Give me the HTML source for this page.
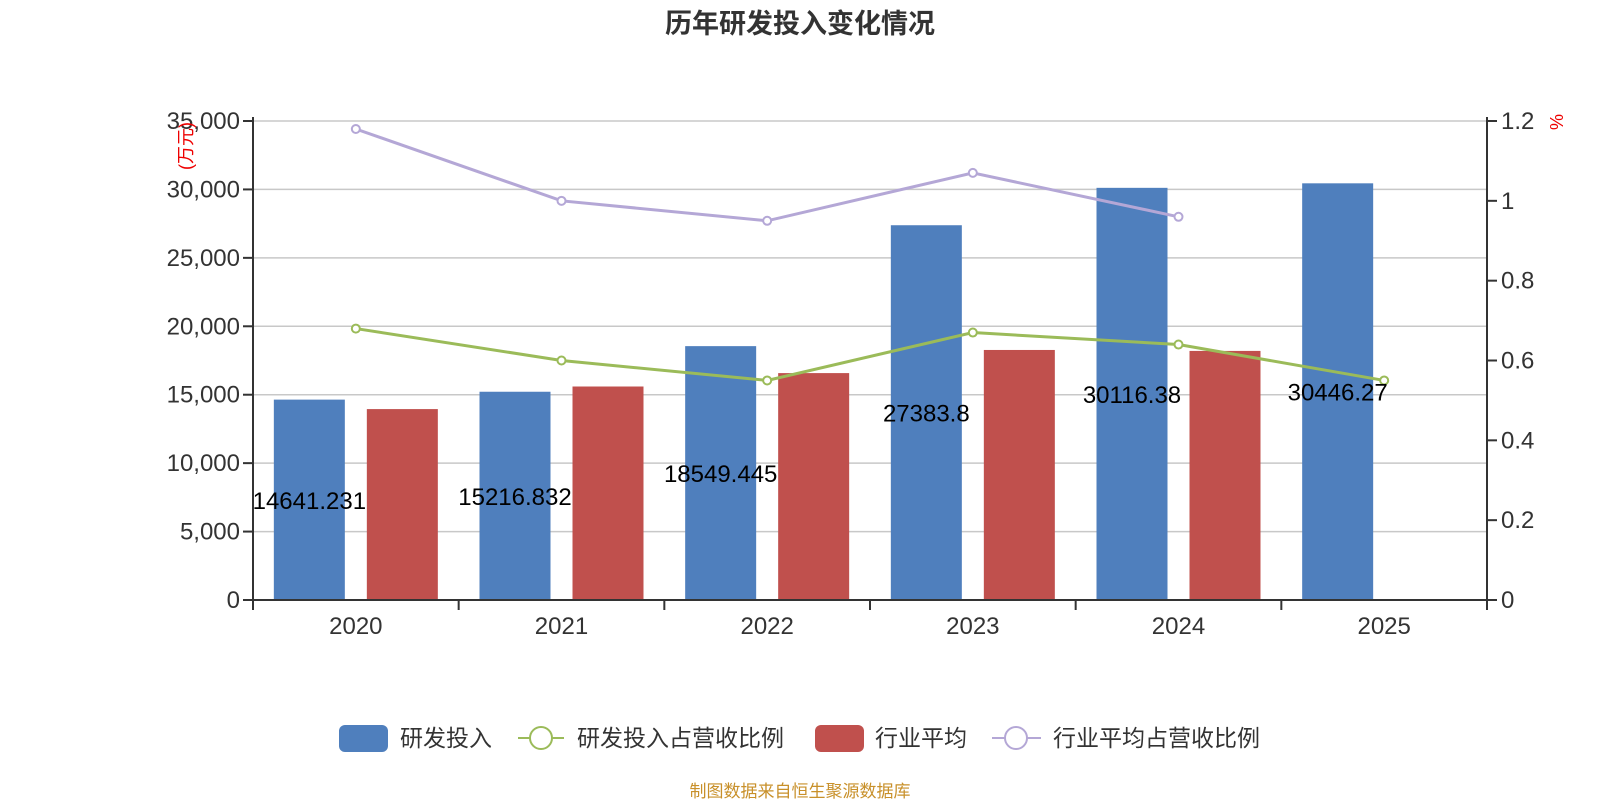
<!DOCTYPE html>
<html><head><meta charset="utf-8">
<style>
body{margin:0;background:#fff;}
svg{display:block;font-family:"Liberation Sans","Noto Sans CJK SC",sans-serif;}
</style></head>
<body>
<svg id="chart" width="1600" height="800" viewBox="0 0 1600 800">
<text x="800" y="33" text-anchor="middle" font-size="27" font-weight="bold" fill="#333">历年研发投入变化情况</text>
<g id="grid"></g>
<g id="bars"></g>
<g id="lines"></g>
<g id="axes"></g>
<text transform="translate(192,146) rotate(-90)" text-anchor="middle" font-size="18" fill="#e00">(万元)</text>
<text transform="translate(1563,122) rotate(-90)" text-anchor="middle" font-size="18" fill="#e00">%</text>
<g font-size="23" fill="#333">
 <g><rect x="339" y="725" width="49" height="27" rx="6" fill="#4f7fbd"/><text x="400" y="746">研发投入</text></g>
 <g><line x1="518" y1="738" x2="564" y2="738" stroke="#9bbb59" stroke-width="2"/><circle cx="541" cy="738" r="11" fill="#fff" stroke="#9bbb59" stroke-width="2"/><text x="577" y="746">研发投入占营收比例</text></g>
 <g><rect x="815" y="725" width="49" height="27" rx="6" fill="#c0504d"/><text x="875" y="746">行业平均</text></g>
 <g><line x1="992" y1="738" x2="1041" y2="738" stroke="#b4a7d6" stroke-width="2"/><circle cx="1016" cy="738" r="11" fill="#fff" stroke="#b4a7d6" stroke-width="2"/><text x="1053" y="746">行业平均占营收比例</text></g>
</g>
<text x="800" y="797" text-anchor="middle" font-size="17" fill="#c8902a">制图数据来自恒生聚源数据库</text>
</svg>
<script>
const categories=["2020","2021","2022","2023","2024","2025"];
const rdValues=[14641.231,15216.832,18549.445,27383.8,30116.38,30446.27];
const rdLabels=["14641.231","15216.832","18549.445","27383.8","30116.38","30446.27"];
const industryAvg=[13950,15600,16580,18270,18200,null];
const rdRatio=[0.68,0.60,0.55,0.67,0.64,0.55];
const industryRatio=[1.18,1.00,0.95,1.07,0.96,null];
const leftTicks=[0,5000,10000,15000,20000,25000,30000,35000];
const leftTickLabels=["0","5,000","10,000","15,000","20,000","25,000","30,000","35,000"];
const rightTicks=[0,0.2,0.4,0.6,0.8,1,1.2];
const rightTickLabels=["0","0.2","0.4","0.6","0.8","1","1.2"];

const NS="http://www.w3.org/2000/svg";
const X0=253,X1=1487,Y0=600,Y1=121;
const bw=(X1-X0)/categories.length;
const yL=v=>Y0-(v/35000)*(Y0-Y1);
const yR=v=>Y0-(v/1.2)*(Y0-Y1);
const xc=i=>X0+bw*(i+0.5);
function mk(tag,attrs,parent){const e=document.createElementNS(NS,tag);for(const k in attrs)e.setAttribute(k,attrs[k]);document.getElementById(parent).appendChild(e);return e;}

leftTicks.forEach((t,i)=>{
 const g=mk('line',{x1:X0,x2:X1,y1:yL(t),y2:yL(t),stroke:'#c8c8c8','stroke-width':1.5},'grid');
 
 
 const tk=mk('line',{x1:X0-10,x2:X0,y1:yL(t),y2:yL(t),stroke:'#333','stroke-width':2},'axes');
 
 
 const tx=mk('text',{x:X0-13,y:yL(t)+8,'text-anchor':'end','font-size':24,fill:'#333'},'axes');
 tx.textContent=leftTickLabels[i];
 
 
});
rightTicks.forEach((t,i)=>{
 const tk=mk('line',{x1:X1,x2:X1+10,y1:yR(t),y2:yR(t),stroke:'#333','stroke-width':2},'axes');
 
 
 const tx=mk('text',{x:X1+14,y:yR(t)+8,'font-size':24,fill:'#333'},'axes');
 tx.textContent=rightTickLabels[i];
 
 
});
let a=mk('line',{x1:X0,x2:X0,y1:Y1-4,y2:Y0+10,stroke:'#333','stroke-width':2},'axes');


a=mk('line',{x1:X1,x2:X1,y1:Y1-4,y2:Y0+10,stroke:'#333','stroke-width':2},'axes');


a=mk('line',{x1:X0,x2:X1,y1:Y0,y2:Y0,stroke:'#333','stroke-width':2},'axes');


for(let i=0;i<=categories.length;i++){
 const t=mk('line',{x1:X0+bw*i,x2:X0+bw*i,y1:Y0,y2:Y0+10,stroke:'#333','stroke-width':2},'axes');
 
 
}
categories.forEach((c,i)=>{
 const t=mk('text',{x:xc(i),y:Y0+34,'text-anchor':'middle','font-size':24,fill:'#333'},'axes');
 t.textContent=c;
 
 
 const b=mk('rect',{x:xc(i)-46.5-35.5,y:yL(rdValues[i]),width:71,height:Y0-yL(rdValues[i]),fill:'#4f7fbd'},'bars');
 
 
 if(industryAvg[i]!=null){
  const r=mk('rect',{x:xc(i)+46.5-35.5,y:yL(industryAvg[i]),width:71,height:Y0-yL(industryAvg[i]),fill:'#c0504d'},'bars');
  
  
 }
});
function line(vals,color,name){
 const pts=[];vals.forEach((v,i)=>{if(v!=null)pts.push([xc(i),yR(v)]);});
 const p=mk('polyline',{points:pts.map(p=>p.join(',')).join(' '),fill:'none',stroke:color,'stroke-width':3},'lines');
 
 
 pts.forEach(q=>{const c=mk('circle',{cx:q[0],cy:q[1],r:4,fill:'#fff',stroke:color,'stroke-width':2},'lines');
  
  });
}
line(industryRatio,'#b4a7d6','industry-ratio');
line(rdRatio,'#9bbb59','rd-ratio');
categories.forEach((c,i)=>{
 const t=mk('text',{x:xc(i)-46.5,y:(Y0+yL(rdValues[i]))/2+9,'text-anchor':'middle','font-size':24,fill:'#000'},'lines');
 t.textContent=rdLabels[i];
 
 
});
</script>
</body></html>
